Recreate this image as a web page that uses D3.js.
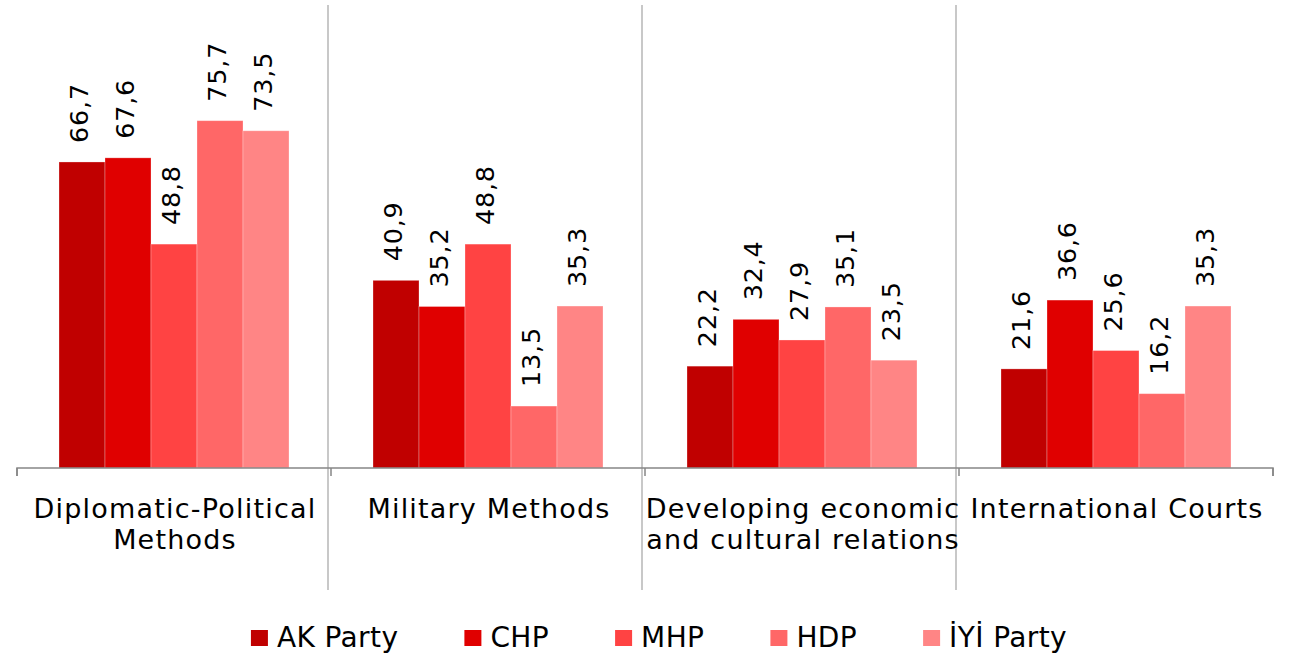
<!DOCTYPE html>
<html>
<head>
<meta charset="utf-8">
<script src="https://cdn.jsdelivr.net/npm/d3@7"></script>
<style>
  html, body { margin: 0; padding: 0; background: #fff; }
  svg { display: block; font-family: "DejaVu Sans", Verdana, sans-serif; }
</style>
</head>
<body>
<svg id="chart" width="1293" height="656"></svg>
<script>
const categories = ["Diplomatic-Political\nMethods", "Military Methods", "Developing economic\nand cultural relations", "International Courts"];
const seriesNames = ["AK Party", "CHP", "MHP", "HDP", "İYİ Party"];
const akParty = [66.7, 40.9, 22.2, 21.6];
const chp = [67.6, 35.2, 32.4, 36.6];
const mhp = [48.8, 48.8, 27.9, 25.6];
const hdp = [75.7, 13.5, 35.1, 16.2];
const iyiParty = [73.5, 35.3, 23.5, 35.3];
const seriesColors = ["#C00000", "#E00000", "#FF4343", "#FF6767", "#FF8585"];

const seriesValues = [akParty, chp, mhp, hdp, iyiParty];
const fmt = v => v.toFixed(1).replace(".", ",");

const svg = d3.select("#chart");
const left = 17, right = 1273, baseY = 468;

const x0 = d3.scaleBand().domain(categories).range([left, right]).padding(0);
const x1 = d3.scaleBand().domain(seriesNames).range([42, x0.bandwidth() - 42]).padding(0);
const y = d3.scaleLinear().domain([0, 100]).range([baseY, baseY - 458.8]);

// separators between groups
svg.append("g").selectAll("line")
  .data(categories.slice(1))
  .join("line")
  .attr("x1", d => x0(d) - 3).attr("x2", d => x0(d) - 3)
  .attr("y1", 5).attr("y2", 590)
  .attr("stroke", "#c8c8c8").attr("stroke-width", 2);

// bars
const groups = svg.append("g").selectAll("g")
  .data(categories)
  .join("g")
  .attr("transform", d => `translate(${x0(d)},0)`);

groups.selectAll("rect")
  .data((c, ci) => seriesNames.map((s, si) => ({ s, si, v: seriesValues[si][ci] })))
  .join("rect")
  .attr("x", d => x1(d.s))
  .attr("y", d => y(d.v))
  .attr("width", x1.bandwidth())
  .attr("height", d => y(0) - y(d.v))
  .attr("fill", d => seriesColors[d.si])
  .attr("stroke", "rgba(255,255,255,0.35)")
  .attr("stroke-width", 0.8);

groups.selectAll("text")
  .data((c, ci) => seriesNames.map((s, si) => ({ s, si, v: seriesValues[si][ci] })))
  .join("text")
  .attr("transform", d => `translate(${x1(d.s) + x1.bandwidth() / 2},${y(d.v) - 19}) rotate(-90)`)
  .attr("dy", "0.25em")
  .attr("font-size", 25.5)
  .attr("letter-spacing", 0.8)
  .attr("fill", "#000")
  .text(d => fmt(d.v));

// axis
const axis = d3.axisBottom(x0).tickSize(8).tickFormat("");
const ag = svg.append("g").attr("transform", `translate(0,${baseY})`).call(axis);
ag.select(".domain").attr("stroke", "#868686").attr("stroke-width", 1.5)
  .attr("d", `M${left},8V0H${right}V8`);
ag.selectAll(".tick").remove();
ag.selectAll(".bnd").data(d3.range(categories.length + 1)).join("line")
  .attr("x1", i => left + i * x0.step()).attr("x2", i => left + i * x0.step())
  .attr("y1", 0).attr("y2", 8).attr("stroke", "#868686").attr("stroke-width", 1.5);

// category labels
const cl = svg.append("g").selectAll("text")
  .data(categories)
  .join("text")
  .attr("x", d => x0(d) + x0.bandwidth() / 2 + 1)
  .attr("y", 518)
  .attr("text-anchor", "middle")
  .attr("font-size", 27)
  .attr("letter-spacing", 1.2)
  .attr("fill", "#000");
cl.selectAll("tspan")
  .data(d => d.split("\n"))
  .join("tspan")
  .attr("x", function() { return this.parentNode.getAttribute("x"); })
  .attr("dy", (d, i) => i === 0 ? 0 : 31)
  .text(d => d);

// legend
const lg = svg.append("g");
const items = lg.selectAll("g").data(seriesNames).join("g");
items.append("rect").attr("x", 0).attr("y", -17).attr("width", 17).attr("height", 16)
  .attr("fill", (d, i) => seriesColors[i]);
items.append("text").attr("x", 26).attr("y", 0).attr("font-size", 28)
  .attr("letter-spacing", 0.4).attr("fill", "#000").text(d => d);
let cx = 0;
items.each(function() {
  d3.select(this).attr("transform", `translate(${cx},0)`);
  cx += 26 + this.querySelector("text").getComputedTextLength() + 66;
});
const total = cx - 66;
lg.attr("transform", `translate(${659 - total / 2},647)`);
</script>
</body>
</html>
